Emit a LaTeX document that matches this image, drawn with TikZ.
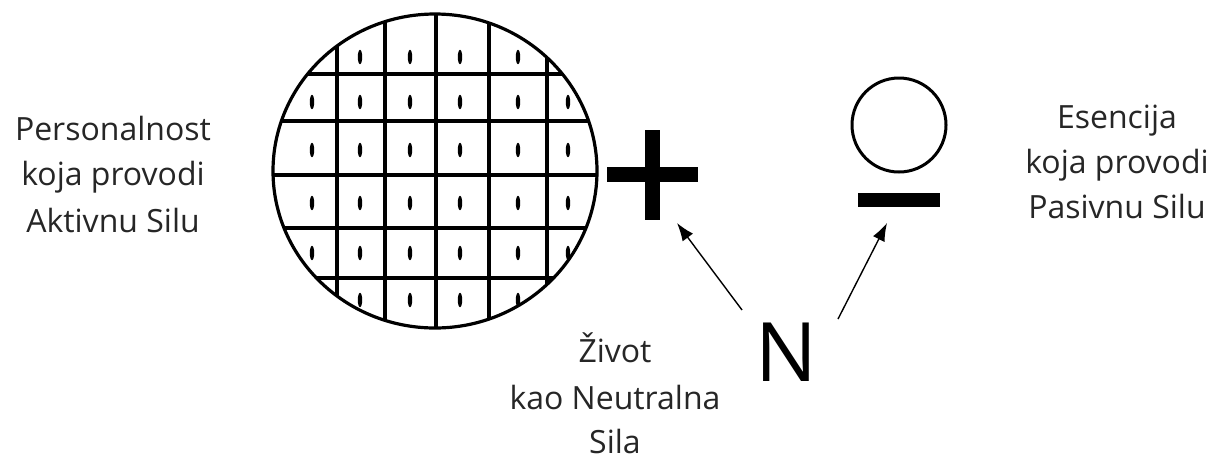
\documentclass[tikz,border=0pt]{standalone}
\usepackage{fontspec}
\setmainfont{Open Sans}
\usetikzlibrary{arrows.meta}
\begin{document}
\begin{tikzpicture}[x=1pt,y=-1pt,
  lbl/.style={inner sep=0pt,anchor=base,font=\fontsize{32}{46}\selectfont,text=black!85},
  gridline/.style={line width=3.2pt},
  cellmark/.style={fill=black},
  arr/.style={line width=1.4pt,-{Latex[length=18pt,width=13pt]}},
  bar/.style={fill=black}]
\useasboundingbox (0,0) rectangle (1225,459);
% big circle with grid
\begin{scope}
  \clip (435,171) ellipse [x radius=162, y radius=157];
  \foreach \x in {337,385,436,489,547} \draw[gridline] (\x,0) -- (\x,340);
  \foreach \y in {74,121,175,228,278} \draw[gridline] (260,\y) -- (610,\y);
  \foreach \x in {312,360,410,460,518,568}
    \foreach \y in {57,102,150,203,253,300}
      \fill[cellmark] (\x,\y) ellipse [x radius=2.2, y radius=7.2];
\end{scope}
\draw[line width=3.2pt] (435,171) ellipse [x radius=162, y radius=157];
\coordinate (big) at (435,171);
% plus
\coordinate (plus) at (652,175);
\fill[bar] (607,167) rectangle (698,182);
\fill[bar] (645,130) rectangle (660,220);
% small circle and minus
\node[circle,draw,line width=3pt,minimum size=94pt,inner sep=0pt] (small) at (899,125) {};
\fill[bar] (858,193) rectangle (940,207);
\coordinate (minus) at (899,200);
% N
\node[inner sep=0pt,font=\fontsize{82}{90}\selectfont] (N) at (786,352) {N};
\coordinate (a1s) at (742,310);
\coordinate (a1e) at (677,223);
\coordinate (a2s) at (838,319);
\coordinate (a2e) at (887,223);
\draw[arr] (a1s) -- (a1e);
\draw[arr] (a2s) -- (a2e);
% left labels
\node[lbl] (l1) at (113,140) {Personalnost};
\node[lbl] (l2) at (113,185) {koja provodi};
\node[lbl] (l3) at (113,232) {Aktivnu Silu};
% right labels
\node[lbl] (r1) at (1117,128) {Esencija};
\node[lbl] (r2) at (1117,173) {koja provodi};
\node[lbl] (r3) at (1117,218) {Pasivnu Silu};
% bottom labels
\node[lbl] (b1) at (615,362) {Život};
\node[lbl] (b2) at (615,409) {kao Neutralna};
\node[lbl] (b3) at (615,453) {Sila};
\end{tikzpicture}
\end{document}
